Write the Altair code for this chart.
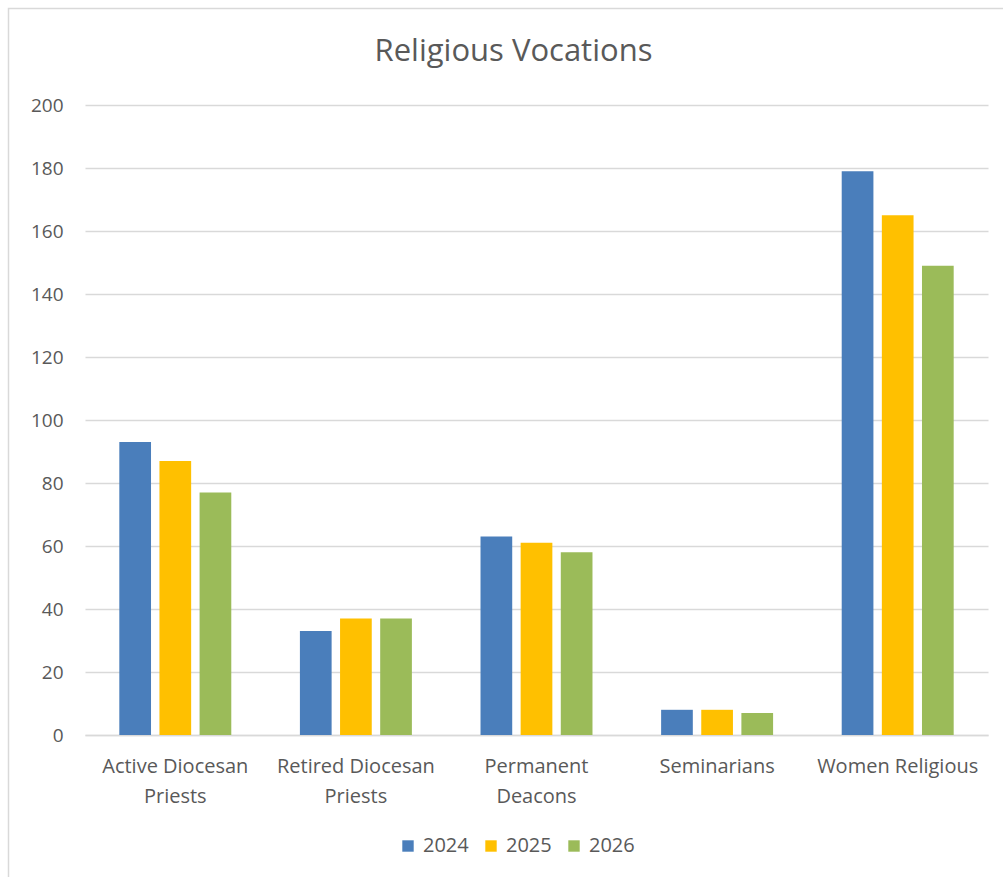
import altair as alt
import pandas as pd

# Religious vocations by category and year
categories = [
    "Active Diocesan\nPriests",
    "Retired Diocesan\nPriests",
    "Permanent\nDeacons",
    "Seminarians",
    "Women Religious",
]
years = ["2024", "2025", "2026"]
counts_2024 = [93, 33, 63, 8, 179]
counts_2025 = [87, 37, 61, 8, 165]
counts_2026 = [77, 37, 58, 7, 149]
y_ticks = list(range(0, 201, 20))
colors = ["#4A7EBB", "#FFC000", "#9BBB59"]

rows = []
for year, series in zip(years, [counts_2024, counts_2025, counts_2026]):
    for cat, val in zip(categories, series):
        rows.append({"Category": cat, "Year": year, "Count": val})
df = pd.DataFrame(rows)

FONT = "Open Sans"
TEXT = "#595959"
GRID = "#D9D9D9"
PLOT_W, PLOT_H = 903, 630

bars = alt.Chart(df).mark_bar().encode(
    x=alt.X(
        "Category:N",
        sort=categories,
        scale=alt.Scale(paddingInner=0.38, paddingOuter=0.19),
        axis=alt.Axis(
            title=None,
            labelAngle=0,
            labelExpr="split(datum.label, '\\n')",
            labelFont=FONT,
            labelFontSize=20,
            labelColor=TEXT,
            labelLineHeight=30,
            labelPadding=31,
            labelBaseline="middle",
            ticks=False,
            domainColor=GRID,
            domainWidth=1.5,
            grid=False,
        ),
    ),
    xOffset=alt.XOffset("Year:N", scale=alt.Scale(paddingInner=0.21, paddingOuter=0)),
    y=alt.Y(
        "Count:Q",
        scale=alt.Scale(domain=[0, 200], nice=False),
        axis=alt.Axis(
            title=None,
            values=y_ticks,
            labelFont=FONT,
            labelFontSize=19,
            labelColor=TEXT,
            labelPadding=22,
            ticks=False,
            domain=False,
            gridColor=GRID,
            gridWidth=1.5,
        ),
    ),
    color=alt.Color(
        "Year:N",
        scale=alt.Scale(domain=years, range=colors),
        legend=alt.Legend(
            title=None,
            orient="none",
            direction="horizontal",
            legendX=313,
            legendY=731,
            symbolType="square",
            symbolSize=130,
            symbolStrokeWidth=0,
            labelFont=FONT,
            labelFontSize=20,
            labelColor=TEXT,
            labelOffset=5,
            columnPadding=12,
        ),
    ),
)

# Thin frame around the whole chart
frame = alt.Chart(pd.DataFrame({"k": [0]})).mark_rect(
    fill=None, stroke=GRID, strokeWidth=1.5
).encode(
    x=alt.value(-76.5),
    x2=alt.value(PLOT_W + 60),
    y=alt.value(-96.5),
    y2=alt.value(PLOT_H + 200),
)

chart = (
    alt.layer(frame, bars)
    .properties(
        width=PLOT_W,
        height=PLOT_H,
        autosize=alt.AutoSizeParams(type="none"),
        padding={"left": 85, "top": 105, "right": 15, "bottom": 142},
        title=alt.Title(
            "Religious Vocations",
            font=FONT,
            fontSize=31,
            fontWeight="normal",
            color=TEXT,
            anchor="middle",
            baseline="alphabetic",
            dx=-23,
            offset=-84,
        ),
    )
    .configure(background="white")
    .configure_view(stroke=None)
)

chart.save("out.html", embed_options={"renderer": "svg", "actions": False})
